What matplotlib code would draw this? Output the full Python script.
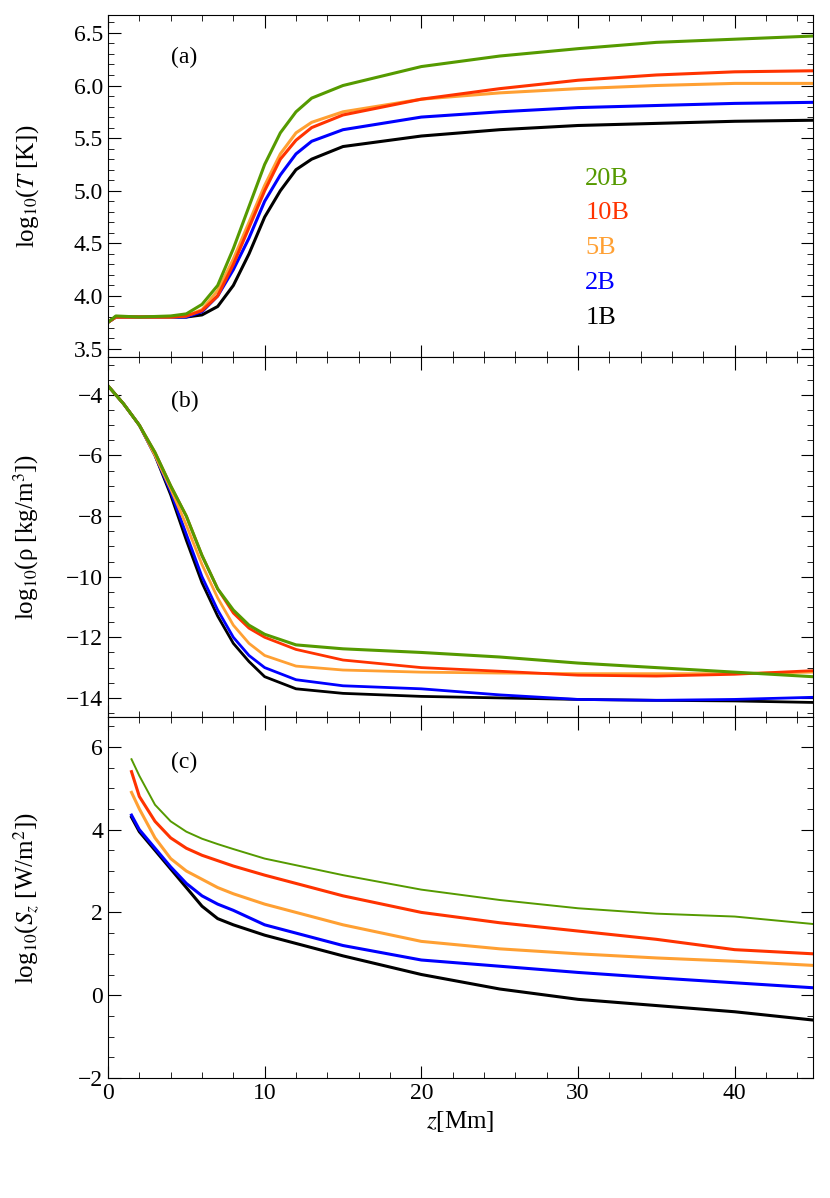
import matplotlib
matplotlib.use("Agg")
import matplotlib.pyplot as plt
from matplotlib.ticker import MultipleLocator

plt.rcParams["font.family"] = "Liberation Serif"
plt.rcParams["mathtext.fontset"] = "stix"

NAMES = ["1B", "2B", "5B", "10B", "20B"]
COLORS = {"1B": "#000000", "2B": "#0000ff", "5B": "#ffa033",
          "10B": "#ff3300", "20B": "#559a00"}

# panel (a): log10 T
Z_T = [0, 0.5, 2, 4, 5, 6, 7, 8, 9, 10, 11, 12, 13, 15, 20, 25, 30, 35, 40, 45]
T = {
    "1B": [3.75, 3.8, 3.8, 3.8, 3.8, 3.82, 3.9, 4.1, 4.4, 4.75, 5.0, 5.2, 5.3, 5.42, 5.52, 5.58, 5.62, 5.64, 5.66, 5.67],
    "2B": [3.75, 3.8, 3.8, 3.8, 3.8, 3.85, 4.0, 4.25, 4.55, 4.9, 5.15, 5.35, 5.47, 5.58, 5.7, 5.75, 5.79, 5.81, 5.83, 5.84],
    "5B": [3.75, 3.8, 3.8, 3.8, 3.81, 3.87, 4.05, 4.35, 4.7, 5.05, 5.35, 5.55, 5.65, 5.75, 5.87, 5.93, 5.97, 6.0, 6.02, 6.02],
    "10B": [3.75, 3.8, 3.8, 3.8, 3.81, 3.86, 4.0, 4.3, 4.65, 5.0, 5.3, 5.48, 5.6, 5.72, 5.87, 5.97, 6.05, 6.1, 6.13, 6.14],
    "20B": [3.75, 3.81, 3.8, 3.81, 3.83, 3.92, 4.1, 4.45, 4.85, 5.25, 5.55, 5.75, 5.88, 6.0, 6.18, 6.28, 6.35, 6.41, 6.44, 6.47],
}

# panel (b): log10 rho
Z_R = [0, 1, 2, 3, 4, 5, 6, 7, 8, 9, 10, 12, 15, 20, 25, 30, 35, 40, 45]
RHO = {
    "1B": [-3.7, -4.3, -5.0, -6.0, -7.3, -8.8, -10.2, -11.3, -12.2, -12.8, -13.3, -13.7, -13.85, -13.95, -14.0, -14.05, -14.08, -14.1, -14.15],
    "2B": [-3.7, -4.3, -5.0, -6.0, -7.2, -8.6, -10.0, -11.1, -12.0, -12.6, -13.0, -13.4, -13.6, -13.7, -13.9, -14.05, -14.08, -14.05, -13.98],
    "5B": [-3.7, -4.3, -5.0, -6.0, -7.1, -8.3, -9.6, -10.7, -11.6, -12.2, -12.6, -12.95, -13.08, -13.15, -13.18, -13.2, -13.2, -13.2, -13.15],
    "10B": [-3.7, -4.3, -5.0, -5.9, -7.0, -8.0, -9.3, -10.4, -11.2, -11.7, -12.0, -12.4, -12.75, -13.0, -13.12, -13.25, -13.28, -13.22, -13.1],
    "20B": [-3.7, -4.3, -5.0, -5.9, -7.0, -8.0, -9.3, -10.4, -11.1, -11.6, -11.9, -12.25, -12.38, -12.5, -12.65, -12.85, -13.0, -13.15, -13.3],
}

# panel (c): log10 S_z
Z_S = [1.5, 2, 3, 4, 5, 6, 7, 8, 10, 15, 20, 25, 30, 35, 40, 45]
SZ = {
    "1B": [4.3, 3.95, 3.5, 3.05, 2.6, 2.15, 1.85, 1.7, 1.45, 0.95, 0.5, 0.15, -0.1, -0.25, -0.4, -0.6],
    "2B": [4.35, 4.0, 3.55, 3.1, 2.7, 2.4, 2.2, 2.05, 1.7, 1.2, 0.85, 0.7, 0.55, 0.42, 0.3, 0.18],
    "5B": [4.9, 4.5, 3.8, 3.3, 3.0, 2.8, 2.6, 2.45, 2.2, 1.7, 1.3, 1.12, 1.0, 0.9, 0.82, 0.72],
    "10B": [5.4, 4.8, 4.2, 3.8, 3.55, 3.38, 3.25, 3.12, 2.9, 2.4, 2.0, 1.75, 1.55, 1.35, 1.1, 1.0],
    "20B": [5.7, 5.3, 4.6, 4.2, 3.95, 3.78, 3.65, 3.53, 3.3, 2.9, 2.55, 2.3, 2.1, 1.97, 1.9, 1.72],
}


def style(ax, ymin, ymax, major, minor):
    ax.set_xlim(0, 45)
    ax.set_ylim(ymin, ymax)
    ax.xaxis.set_major_locator(MultipleLocator(10))
    ax.xaxis.set_minor_locator(MultipleLocator(2))
    ax.yaxis.set_major_locator(MultipleLocator(major))
    ax.yaxis.set_minor_locator(MultipleLocator(minor))
    ax.tick_params(which="both", direction="in", top=True, right=True, labelsize=17)
    ax.tick_params(which="major", length=9)
    ax.tick_params(which="minor", length=4)


fig = plt.figure(figsize=(8.30, 11.98), dpi=100)
left, width = 108 / 830, 705 / 830
ax1 = fig.add_axes([left, 1 - 357 / 1198, width, 342 / 1198])
ax2 = fig.add_axes([left, 1 - 717 / 1198, width, 360 / 1198])
ax3 = fig.add_axes([left, 1 - 1078 / 1198, width, 361 / 1198])

for name in NAMES:
    c = COLORS[name]
    ax1.plot(Z_T, T[name], color=c, lw=2.2)
    ax2.plot(Z_R, RHO[name], color=c, lw=2.0 if name != "20B" else 2.2)
    ax3.plot(Z_S, SZ[name], color=c, lw=1.4 if name == "20B" else 2.2)

style(ax1, 3.42, 6.67, 0.5, 0.1)
style(ax2, -14.63, -2.75, 2, 0.5)
style(ax3, -2.0, 6.72, 2, 0.5)
ax1.set_xticklabels([])
ax2.set_xticklabels([])

ax1.set_ylabel(r"log$_{10}$($T$ [K])", fontsize=18)
ax2.set_ylabel(r"log$_{10}$(ρ [kg/m$^3$])", fontsize=18)
ax3.set_ylabel(r"log$_{10}$($S_z$ [W/m$^2$])", fontsize=18)
ax3.set_xlabel(r"$z$[Mm]", fontsize=18)
for ax in (ax1, ax2, ax3):
    ax.yaxis.set_label_coords(-0.095, 0.5)

ax1.text(0.09, 0.86, "(a)", transform=ax1.transAxes, fontsize=17)
ax2.text(0.09, 0.86, "(b)", transform=ax2.transAxes, fontsize=17)
ax3.text(0.09, 0.86, "(c)", transform=ax3.transAxes, fontsize=17)

for name, yf in zip(["20B", "10B", "5B", "2B", "1B"], [0.52, 0.42, 0.32, 0.216, 0.114]):
    ax1.text(0.677, yf, name, color=COLORS[name], transform=ax1.transAxes,
             fontsize=19, va="center")

fig.savefig("out.png", dpi=100)
